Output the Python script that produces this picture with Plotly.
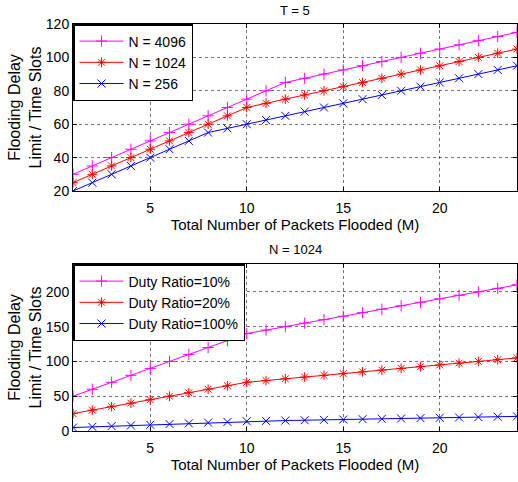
import plotly.graph_objects as go

M = list(range(1, 25))

# Top panel (T = 5)
n4096 = [30, 35, 40, 45, 50, 55, 60, 65, 70, 75, 80, 85, 87.5, 90, 92.5, 95, 97.5,
         100, 102.5, 105, 107.5, 110, 112.5, 115]
n1024 = [25, 30, 35, 40, 45, 50, 55, 60, 65, 70, 72.5, 75, 77.5, 80, 82.5, 85, 87.5,
         90, 92.5, 95, 97.5, 100, 102.5, 105]
n256 = [20, 25, 30, 35, 40, 45, 50, 55, 57.5, 60, 62.5, 65, 67.5, 70, 72.5, 75, 77.5,
        80, 82.5, 85, 87.5, 90, 92.5, 95]

# Bottom panel (N = 1024)
duty10 = [50, 60, 70, 80, 90, 100, 110, 120, 130, 140, 145, 150, 155, 160, 165, 170,
          175, 180, 185, 190, 195, 200, 205, 210]
duty20 = [25, 30, 35, 40, 45, 50, 55, 60, 65, 70, 72.5, 75, 77.5, 80, 82.5, 85, 87.5,
          90, 92.5, 95, 97.5, 100, 102.5, 105]
duty100 = [5, 6, 7, 8, 9, 10, 11, 12, 13, 14, 14.5, 15, 15.5, 16, 16.5, 17, 17.5,
           18, 18.5, 19, 19.5, 20, 20.5, 21]

top_names = ["N = 4096", "N = 1024", "N = 256"]
bot_names = ["Duty Ratio=10%", "Duty Ratio=20%", "Duty Ratio=100%"]
colors = ["#FF00FF", "#FF0000", "#0000FF"]
symbols = ["cross-thin-open", "asterisk-open", "x-thin-open"]
x_ticks = [5, 10, 15, 20]
top_yticks = [20, 40, 60, 80, 100, 120]
bot_yticks = [0, 50, 100, 150, 200]

FONT = "Liberation Sans, Arial, Helvetica, sans-serif"

fig = go.Figure()
for ys, name, c, s in zip([n4096, n1024, n256], top_names, colors, symbols):
    fig.add_trace(go.Scatter(x=M, y=ys, name=name, mode="lines+markers",
                             line=dict(color=c, width=1),
                             marker=dict(symbol=s, size=8, color=c, line=dict(color=c, width=1)),
                             xaxis="x", yaxis="y", legend="legend"))
for ys, name, c, s in zip([duty10, duty20, duty100], bot_names, colors, symbols):
    fig.add_trace(go.Scatter(x=M, y=ys, name=name, mode="lines+markers",
                             line=dict(color=c, width=1),
                             marker=dict(symbol=s, size=8, color=c, line=dict(color=c, width=1)),
                             xaxis="x2", yaxis="y2", legend="legend2"))

ax_common = dict(showline=True, linecolor="black", linewidth=1, mirror="ticks",
                 ticks="inside", ticklen=4, tickcolor="black",
                 showgrid=True, gridcolor="rgba(0,0,0,0.55)", griddash="dot", gridwidth=1,
                 zeroline=False, tickfont=dict(size=14, color="black", family=FONT))

xtitle = dict(text="Total Number of Packets Flooded (M)", font=dict(size=15, color="black", family=FONT), standoff=4)
ytitle = dict(text="Flooding Delay<br>Limit / Time Slots", font=dict(size=16, color="black", family=FONT), standoff=0)

top_dom = [1 - 167 / 407, 1]
bot_dom = [0, 167 / 407]

leg_common = dict(xref="paper", yref="paper", xanchor="left", yanchor="top",
                  bordercolor="black", borderwidth=1.5, bgcolor="white", itemwidth=44,
                  font=dict(size=14, family=FONT, color="black"), tracegroupgap=0)

fig.update_layout(
    width=518, height=482,
    margin=dict(l=73, r=1, t=24, b=51),
    paper_bgcolor="white", plot_bgcolor="white",
    font=dict(family=FONT, color="black", size=14),
    xaxis=dict(ax_common, domain=[0, 1], range=[1, 24], tickvals=x_ticks, anchor="y", title=xtitle,
               ticklabelstandoff=4),
    yaxis=dict(ax_common, domain=top_dom, range=[20, 120], tickvals=top_yticks, anchor="x", title=ytitle),
    xaxis2=dict(ax_common, domain=[0, 1], range=[1, 24], tickvals=x_ticks, anchor="y2", title=xtitle,
                ticklabelstandoff=4),
    yaxis2=dict(ax_common, domain=bot_dom, range=[0, 240], tickvals=bot_yticks, anchor="x2", title=ytitle),
    legend=dict(leg_common, x=0, y=1),
    legend2=dict(leg_common, x=0, y=bot_dom[1]),
    annotations=[
        dict(text="T = 5", x=0.5, y=1, xref="paper", yref="paper", xanchor="center", yanchor="bottom",
             yshift=4, showarrow=False, font=dict(size=13, family=FONT, color="black")),
        dict(text="N = 1024", x=0.5, y=bot_dom[1], xref="paper", yref="paper", xanchor="center",
             yanchor="bottom", yshift=5, showarrow=False, font=dict(size=13, family=FONT, color="black")),
    ],
    showlegend=True,
)

fig.write_html("out.html")
